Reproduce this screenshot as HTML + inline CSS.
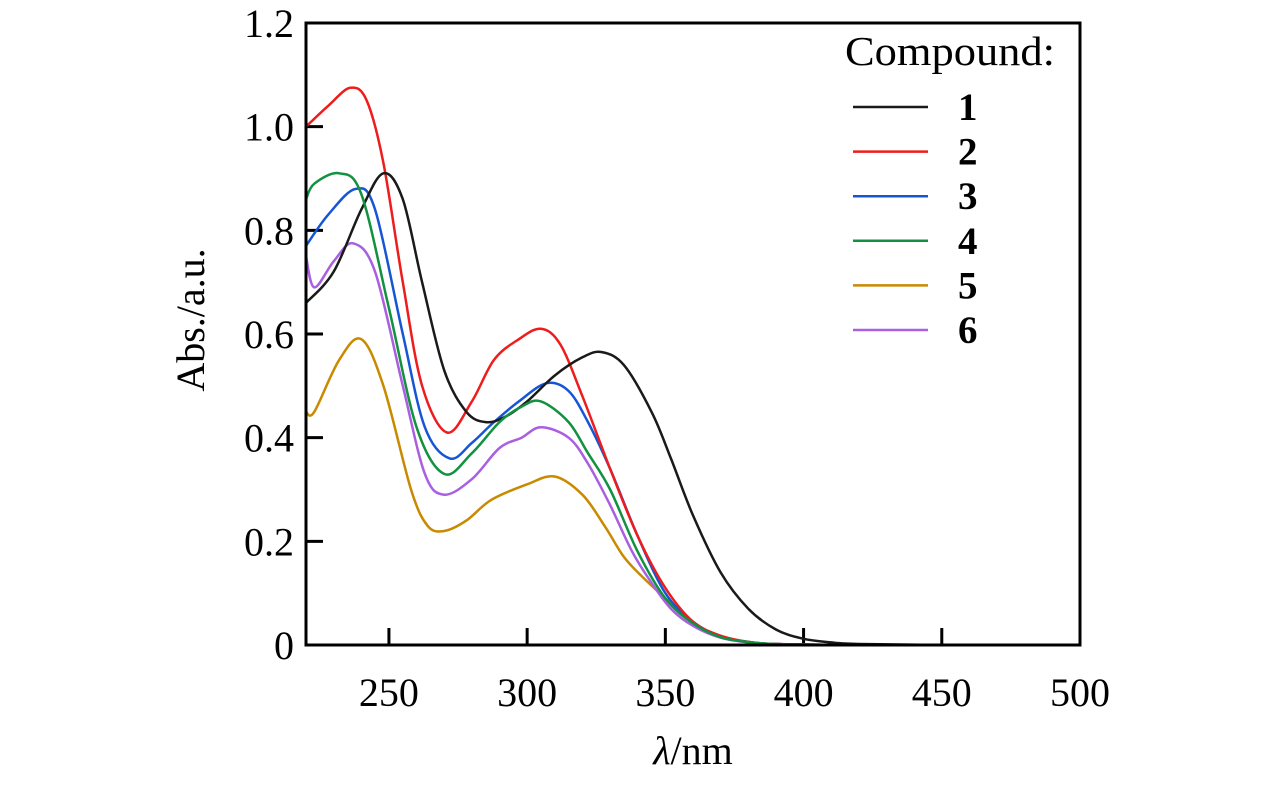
<!DOCTYPE html>
<html><head><meta charset="utf-8"><style>
body{margin:0;background:#fff}
svg{display:block;font-family:"Liberation Serif",serif}
</style></head><body>
<svg id="chart" width="1276" height="787" viewBox="0 0 1276 787" xmlns="http://www.w3.org/2000/svg">
<g id="axes"></g>
<g id="series"></g>
<rect x="306" y="23" width="774" height="622" fill="none" stroke="#000" stroke-width="3"/>
<text transform="translate(204,320) rotate(-90)" text-anchor="middle" font-size="40">Abs./a.u.</text>
<text x="693" y="764" text-anchor="middle" font-size="40"><tspan font-style="italic">λ</tspan>/nm</text>
<g id="legend">
<text x="845" y="65" font-size="41" textLength="210" lengthAdjust="spacingAndGlyphs">Compound:</text>
</g>
</svg>
<script>
const wavelengths1=[220,230,240,248,255,262,270,278,285,292,300,310,320,327,335,345,352,360,370,380,390,400,410,420,450,500];
const abs1=[0.66,0.72,0.84,0.91,0.86,0.70,0.53,0.45,0.43,0.44,0.47,0.52,0.555,0.565,0.54,0.45,0.36,0.25,0.14,0.07,0.03,0.012,0.005,0.002,0,0];
const wavelengths2=[220,228,236,242,248,255,262,271,280,288,297,305,312,320,330,340,350,360,370,380,390,420,500];
const abs2=[1.0,1.04,1.075,1.05,0.93,0.70,0.50,0.41,0.47,0.55,0.59,0.61,0.58,0.48,0.34,0.21,0.11,0.045,0.018,0.006,0.002,0,0];
const wavelengths3=[220,228,238,245,255,263,272,280,288,297,307,315,322,330,340,350,360,370,380,390,420,500];
const abs3=[0.77,0.83,0.88,0.84,0.60,0.42,0.36,0.39,0.43,0.47,0.505,0.49,0.43,0.34,0.21,0.10,0.045,0.016,0.006,0.002,0,0];
const wavelengths4=[220,223,232,240,250,260,270,280,290,298,305,315,322,330,340,350,360,370,380,390,420,500];
const abs4=[0.86,0.89,0.91,0.87,0.65,0.42,0.33,0.37,0.43,0.46,0.47,0.43,0.37,0.30,0.18,0.09,0.042,0.015,0.006,0.002,0,0];
const wavelengths5=[220,223,232,240,248,258,264,270,278,287,300,310,320,328,335,342,350,360,370,380,390,420,500];
const abs5=[0.45,0.45,0.55,0.59,0.50,0.30,0.23,0.22,0.24,0.28,0.31,0.325,0.29,0.23,0.17,0.13,0.09,0.042,0.015,0.006,0.002,0,0];
const wavelengths6=[220,223,230,237,245,255,263,270,280,290,298,305,315,322,330,338,345,352,360,370,380,390,420,500];
const abs6=[0.75,0.69,0.74,0.775,0.72,0.50,0.33,0.29,0.32,0.38,0.40,0.42,0.40,0.35,0.27,0.18,0.12,0.07,0.037,0.014,0.005,0.002,0,0];
const seriesNames=["1","2","3","4","5","6"];
const seriesColors=["#1a1a1a","#ee1c1c","#1656d6","#129140","#c98a00","#a95fe0"];
const xTicks=[250,300,350,400,450,500];
const yTicks=[0,0.2,0.4,0.6,0.8,1.0,1.2];
const yTickLabels=["0","0.2","0.4","0.6","0.8","1.0","1.2"];

const NS="http://www.w3.org/2000/svg";
const X0=306,X1=1080,Y0=645,Y1=23,XMIN=220,XMAX=500,YMIN=0,YMAX=1.2;
function xs(v){return X0+(v-XMIN)/(XMAX-XMIN)*(X1-X0);}
function ys(v){return Y0-(v-YMIN)/(YMAX-YMIN)*(Y0-Y1);}
function mk(tag,attrs,parent){const e=document.createElementNS(NS,tag);for(const k in attrs)e.setAttribute(k,attrs[k]);parent.appendChild(e);return e;}
const axes=document.getElementById('axes');
xTicks.forEach(t=>{
 const l=mk('line',{x1:xs(t),x2:xs(t),y1:Y0,y2:Y0-17,stroke:'#000','stroke-width':3},axes);
 
 
 const tx=mk('text',{x:xs(t),y:706,'text-anchor':'middle','font-size':40},axes);
 tx.textContent=t;
 
 
});
yTicks.forEach((t,i)=>{
 const l=mk('line',{x1:X0,x2:X0+17,y1:ys(t),y2:ys(t),stroke:'#000','stroke-width':3},axes);
 
 
 const tx=mk('text',{x:294,y:ys(t)+14,'text-anchor':'end','font-size':40},axes);
 tx.textContent=yTickLabels[i];
 
 
});
function smooth(pts){
 let d='M'+pts[0][0].toFixed(1)+','+pts[0][1].toFixed(1);
 for(let i=0;i<pts.length-1;i++){
  const p0=pts[i-1]||pts[i],p1=pts[i],p2=pts[i+1],p3=pts[i+2]||p2;
  let c1=[p1[0]+(p2[0]-p0[0])/6,p1[1]+(p2[1]-p0[1])/6];
  let c2=[p2[0]-(p3[0]-p1[0])/6,p2[1]-(p3[1]-p1[1])/6];
  c1[1]=Math.min(c1[1],Y0);c2[1]=Math.min(c2[1],Y0);
  d+='C'+c1[0].toFixed(1)+','+c1[1].toFixed(1)+' '+c2[0].toFixed(1)+','+c2[1].toFixed(1)+' '+p2[0].toFixed(1)+','+p2[1].toFixed(1);
 }
 return d;
}
const data=[[wavelengths1,abs1],[wavelengths2,abs2],[wavelengths3,abs3],[wavelengths4,abs4],[wavelengths5,abs5],[wavelengths6,abs6]];
const sg=document.getElementById('series');
const order=[4,5,2,1,0,3];
order.forEach(i=>{
 const [wx,wy]=data[i];
 const pts=wx.map((w,k)=>[xs(w),ys(wy[k])]);
 const p=mk('path',{d:smooth(pts),fill:'none',stroke:seriesColors[i],'stroke-width':2.5},sg);
 
 
});
const lg=document.getElementById('legend');
seriesNames.forEach((n,i)=>{
 const y=107+i*44.6;
 const l=mk('line',{x1:853,x2:928,y1:y,y2:y,stroke:seriesColors[i],'stroke-width':2.5},lg);
 
 
 const t=mk('text',{x:958,y:y+13,'font-size':39,'font-weight':'bold'},lg);
 t.textContent=n;
 
 
});
</script>
</body></html>
